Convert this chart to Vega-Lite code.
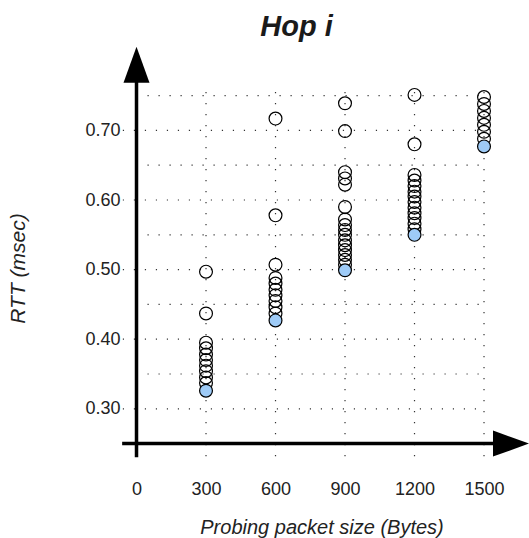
{
  "$schema": "https://vega.github.io/schema/vega-lite/v6.json",
  "width": 429,
  "height": 420,
  "autosize": "none",
  "padding": {"left": 100, "top": 40, "right": 0, "bottom": 78},
  "background": "white",
  "config": {"view": {"stroke": null}, "font": "Liberation Sans"},
  "title": {"text": "Hop i", "font": "Liberation Sans", "fontSize": 29, "fontWeight": "bold", "fontStyle": "italic", "color": "#1a1a1a", "anchor": "middle", "frame": "group", "dx": -18, "dy": 28, "baseline": "alphabetic", "offset": 3},
  "datasets": {
    "grid": [
      {"x": -59, "x2": 1500, "y": 0.30, "y2": 0.30},
      {"x": -59, "x2": 1500, "y": 0.40, "y2": 0.40},
      {"x": -59, "x2": 1500, "y": 0.50, "y2": 0.50},
      {"x": -59, "x2": 1500, "y": 0.60, "y2": 0.60},
      {"x": -59, "x2": 1500, "y": 0.70, "y2": 0.70},
      {"x": 0, "x2": 1500, "y": 0.35, "y2": 0.35},
      {"x": 0, "x2": 1500, "y": 0.45, "y2": 0.45},
      {"x": 0, "x2": 1500, "y": 0.55, "y2": 0.55},
      {"x": 0, "x2": 1500, "y": 0.65, "y2": 0.65},
      {"x": 0, "x2": 1500, "y": 0.75, "y2": 0.75},
      {"x": 300, "x2": 300, "y": 0.232, "y2": 0.757},
      {"x": 600, "x2": 600, "y": 0.232, "y2": 0.757},
      {"x": 900, "x2": 900, "y": 0.232, "y2": 0.757},
      {"x": 1200, "x2": 1200, "y": 0.232, "y2": 0.757},
      {"x": 1500, "x2": 1500, "y": 0.232, "y2": 0.757}
    ],
    "axes": [
      {"x": -62, "x2": 1560, "y": 0.25, "y2": 0.25},
      {"x": 0, "x2": 0, "y": 0.2303, "y2": 0.78}
    ],
    "arrows": [
      {"x": 1616.5, "y": 0.25, "axis": "x"},
      {"x": 0, "y": 0.7944, "axis": "y"}
    ],
    "pts": [
      {"x": 300, "y": 0.497, "kind": "probe"},
      {"x": 300, "y": 0.437, "kind": "probe"},
      {"x": 300, "y": 0.395, "kind": "probe"},
      {"x": 300, "y": 0.387, "kind": "probe"},
      {"x": 300, "y": 0.378, "kind": "probe"},
      {"x": 300, "y": 0.370, "kind": "probe"},
      {"x": 300, "y": 0.362, "kind": "probe"},
      {"x": 300, "y": 0.354, "kind": "probe"},
      {"x": 300, "y": 0.345, "kind": "probe"},
      {"x": 300, "y": 0.337, "kind": "probe"},
      {"x": 300, "y": 0.326, "kind": "min"},
      {"x": 600, "y": 0.717, "kind": "probe"},
      {"x": 600, "y": 0.578, "kind": "probe"},
      {"x": 600, "y": 0.507, "kind": "probe"},
      {"x": 600, "y": 0.488, "kind": "probe"},
      {"x": 600, "y": 0.480, "kind": "probe"},
      {"x": 600, "y": 0.471, "kind": "probe"},
      {"x": 600, "y": 0.463, "kind": "probe"},
      {"x": 600, "y": 0.455, "kind": "probe"},
      {"x": 600, "y": 0.446, "kind": "probe"},
      {"x": 600, "y": 0.437, "kind": "probe"},
      {"x": 600, "y": 0.427, "kind": "min"},
      {"x": 900, "y": 0.739, "kind": "probe"},
      {"x": 900, "y": 0.699, "kind": "probe"},
      {"x": 900, "y": 0.640, "kind": "probe"},
      {"x": 900, "y": 0.631, "kind": "probe"},
      {"x": 900, "y": 0.622, "kind": "probe"},
      {"x": 900, "y": 0.590, "kind": "probe"},
      {"x": 900, "y": 0.572, "kind": "probe"},
      {"x": 900, "y": 0.564, "kind": "probe"},
      {"x": 900, "y": 0.557, "kind": "probe"},
      {"x": 900, "y": 0.550, "kind": "probe"},
      {"x": 900, "y": 0.542, "kind": "probe"},
      {"x": 900, "y": 0.535, "kind": "probe"},
      {"x": 900, "y": 0.528, "kind": "probe"},
      {"x": 900, "y": 0.521, "kind": "probe"},
      {"x": 900, "y": 0.514, "kind": "probe"},
      {"x": 900, "y": 0.507, "kind": "probe"},
      {"x": 900, "y": 0.499, "kind": "min"},
      {"x": 1200, "y": 0.751, "kind": "probe"},
      {"x": 1200, "y": 0.680, "kind": "probe"},
      {"x": 1200, "y": 0.636, "kind": "probe"},
      {"x": 1200, "y": 0.628, "kind": "probe"},
      {"x": 1200, "y": 0.620, "kind": "probe"},
      {"x": 1200, "y": 0.612, "kind": "probe"},
      {"x": 1200, "y": 0.605, "kind": "probe"},
      {"x": 1200, "y": 0.597, "kind": "probe"},
      {"x": 1200, "y": 0.589, "kind": "probe"},
      {"x": 1200, "y": 0.581, "kind": "probe"},
      {"x": 1200, "y": 0.574, "kind": "probe"},
      {"x": 1200, "y": 0.566, "kind": "probe"},
      {"x": 1200, "y": 0.558, "kind": "probe"},
      {"x": 1200, "y": 0.550, "kind": "min"},
      {"x": 1500, "y": 0.748, "kind": "probe"},
      {"x": 1500, "y": 0.738, "kind": "probe"},
      {"x": 1500, "y": 0.728, "kind": "probe"},
      {"x": 1500, "y": 0.718, "kind": "probe"},
      {"x": 1500, "y": 0.708, "kind": "probe"},
      {"x": 1500, "y": 0.698, "kind": "probe"},
      {"x": 1500, "y": 0.688, "kind": "probe"},
      {"x": 1500, "y": 0.677, "kind": "min"}
    ]
  },
  "encoding": {
    "x": {
      "field": "x", "type": "quantitative",
      "scale": {"domain": [-157.6, 1694.2], "nice": false, "zero": false},
      "axis": {
        "values": [0, 300, 600, 900, 1200, 1500], "format": "d",
        "domain": false, "ticks": false, "tickSize": 0, "grid": false,
        "labelFont": "Liberation Sans", "labelFontSize": 18, "labelColor": "#222",
        "labelPadding": 20, "labelFlush": false, "labelOverlap": false,
        "title": "Probing packet size (Bytes)",
        "titleFont": "Liberation Sans", "titleFontSize": 20, "titleFontStyle": "italic", "titleFontWeight": "normal", "titleColor": "#222",
        "titleX": 221.5, "titleY": 73, "titleAlign": "center", "titleBaseline": "alphabetic"
      }
    },
    "y": {
      "field": "y", "type": "quantitative",
      "scale": {"domain": [0.22644, 0.82989], "nice": false, "zero": false},
      "axis": {
        "values": [0.3, 0.4, 0.5, 0.6, 0.7], "format": ".2f",
        "domain": false, "ticks": false, "tickSize": 0, "grid": false,
        "labelFont": "Liberation Sans", "labelFontSize": 18, "labelColor": "#222",
        "labelPadding": -20, "labelAlign": "right", "labelBaseline": "middle", "labelOverlap": false,
        "title": "RTT (msec)",
        "titleFont": "Liberation Sans", "titleFontSize": 21, "titleFontStyle": "italic", "titleFontWeight": "normal", "titleColor": "#222",
        "titleAngle": 270, "titleX": -82, "titleY": 228, "titleAlign": "center", "titleBaseline": "middle"
      }
    }
  },
  "layer": [
    {
      "data": {"name": "grid"},
      "mark": {"type": "rule", "stroke": "#333", "strokeWidth": 1.2, "strokeDash": [1.2, 9.8]},
      "encoding": {"x2": {"field": "x2"}, "y2": {"field": "y2"}}
    },
    {
      "data": {"name": "axes"},
      "mark": {"type": "rule", "stroke": "black", "strokeWidth": 3.5},
      "encoding": {"x2": {"field": "x2"}, "y2": {"field": "y2"}}
    },
    {
      "data": {"name": "arrows"},
      "transform": [{"filter": "datum.axis === 'x'"}],
      "mark": {"type": "point", "shape": "M-1,-0.722L1,0L-1,0.722Z", "size": 1296, "filled": true, "fill": "black", "stroke": null, "opacity": 1},
      "encoding": {}
    },
    {
      "data": {"name": "arrows"},
      "transform": [{"filter": "datum.axis === 'y'"}],
      "mark": {"type": "point", "shape": "M-0.722,1L0,-1L0.722,1Z", "size": 1296, "filled": true, "fill": "black", "stroke": null, "opacity": 1},
      "encoding": {}
    },
    {
      "data": {"name": "pts"},
      "transform": [{"filter": "datum.kind === 'probe'"}],
      "mark": {"type": "point", "shape": "circle", "size": 165, "filled": false, "stroke": "black", "strokeWidth": 1.2, "opacity": 1},
      "encoding": {}
    },
    {
      "data": {"name": "pts"},
      "transform": [{"filter": "datum.kind === 'min'"}],
      "mark": {"type": "circle", "size": 165, "fill": "#9ecbf7", "stroke": "black", "strokeWidth": 1.2, "opacity": 1},
      "encoding": {}
    }
  ]
}
